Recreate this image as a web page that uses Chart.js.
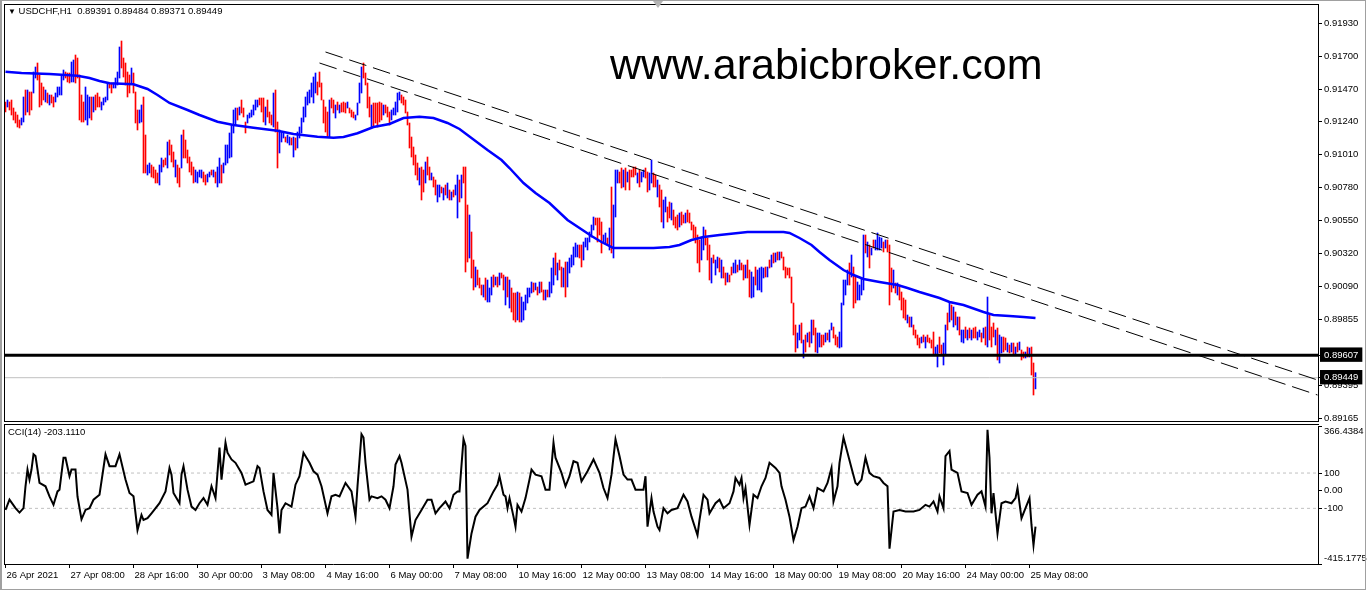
<!DOCTYPE html>
<html>
<head>
<meta charset="utf-8">
<title>USDCHF H1</title>
<script src="https://cdn.jsdelivr.net/npm/chart.js@4.4.1/dist/chart.umd.min.js"></script>
<style>
  html, body { margin: 0; padding: 0; background: #fff; }
  body { position: relative; width: 1368px; height: 596px; overflow: hidden;
         font-family: "Liberation Sans", Arial, sans-serif; color: #000; }
  canvas { position: absolute; left: 0; }
  #mainChart { top: 0; }
  #cciChart { top: 424px; }
  .frame { position: absolute; box-sizing: border-box; border: 1px solid #000; border-right: none; pointer-events: none; }
  #mainFrame { left: 4px; top: 4px; width: 1315px; height: 418px; }
  #cciFrame { left: 4px; top: 424px; width: 1315px; height: 141px; border-bottom: none; }
  #windowEdge { position: absolute; left: 0; top: 0; width: 1366px; height: 590px; box-sizing: border-box;
                border: 1px solid #a0a0a0; border-left-width: 2px; pointer-events: none; }
  .label { position: absolute; font-size: 9.5px; line-height: 12px; white-space: pre; }
  #header { left: 8px; top: 5px; }
  #cciTitle { left: 8px; top: 426px; }
  #site { position: absolute; left: 610px; top: 43px; font-size: 43px; line-height: 43px; white-space: nowrap; }
  #shift { position: absolute; left: 653px; top: 1px; width: 0; height: 0;
           border-left: 5px solid transparent; border-right: 5px solid transparent; border-top: 7px solid #b4b4b4; }
</style>
</head>
<body>
<canvas id="mainChart" width="1368" height="424"></canvas>
<canvas id="cciChart" width="1368" height="172"></canvas>
<div id="mainFrame" class="frame"></div>
<div id="cciFrame" class="frame"></div>
<div id="windowEdge"></div>
<div id="shift"></div>
<div id="header" class="label"><span style="font-size:8px">▼</span> USDCHF,H1  0.89391 0.89484 0.89371 0.89449</div>
<div id="cciTitle" class="label">CCI(14) -203.1110</div>
<div id="site">www.arabicbroker.com</div>

<script>
// H1 bars, 26 Apr 00:00 -> 25 May 11:00, one day (24 bars) per two lines
const priceHigh = [
  0.91379, 0.91393, 0.91379, 0.91393, 0.91337, 0.91309, 0.91288, 0.91253, 0.91267, 0.91414, 0.91463, 0.91463,
  0.91449, 0.91449, 0.91589, 0.91624, 0.91652, 0.91568, 0.91512, 0.91484, 0.91463, 0.91442, 0.91428, 0.91428,
  0.91414, 0.91442, 0.91484, 0.91484, 0.91568, 0.91603, 0.91589, 0.91582, 0.91582, 0.91659, 0.91673, 0.91708,
  0.91687, 0.91568, 0.91428, 0.91379, 0.91484, 0.91428, 0.91414, 0.91414, 0.91414, 0.91428, 0.91442, 0.91414,
  0.91379, 0.91407, 0.91414, 0.91512, 0.91512, 0.91512, 0.91512, 0.91547, 0.91589, 0.91764, 0.91806, 0.91687,
  0.91652, 0.91589, 0.91568, 0.91617, 0.91582, 0.91449, 0.91323, 0.91323, 0.91358, 0.91414, 0.91148, 0.90938,
  0.90952, 0.90938, 0.90924, 0.90903, 0.90882, 0.90938, 0.90987, 0.90973, 0.90987, 0.91099, 0.91113, 0.91078,
  0.91029, 0.90973, 0.90938, 0.90917, 0.91148, 0.91183, 0.91113, 0.91043, 0.90994, 0.90959, 0.90924, 0.90903,
  0.90889, 0.90903, 0.90903, 0.90889, 0.90868, 0.90875, 0.90889, 0.90903, 0.90903, 0.90889, 0.90924, 0.90987,
  0.90938, 0.90952, 0.91078, 0.91078, 0.91162, 0.91218, 0.91323, 0.91337, 0.91337, 0.91344, 0.91393, 0.91337,
  0.91239, 0.91288, 0.91302, 0.91323, 0.91358, 0.91393, 0.91393, 0.91407, 0.91407, 0.91407, 0.91344, 0.91393,
  0.91309, 0.91288, 0.91442, 0.91463, 0.91239, 0.91183, 0.91169, 0.91169, 0.91134, 0.91148, 0.91134, 0.91127,
  0.91134, 0.91127, 0.91169, 0.91204, 0.91267, 0.91344, 0.91414, 0.91449, 0.91463, 0.91512, 0.91554, 0.91582,
  0.91519, 0.91589, 0.91512, 0.91393, 0.91344, 0.91309, 0.91393, 0.91407, 0.91393, 0.91358, 0.91379, 0.91358,
  0.91372, 0.91379, 0.91372, 0.91379, 0.91337, 0.91323, 0.91309, 0.91288, 0.91372, 0.91512, 0.91624, 0.91652,
  0.91582, 0.91512, 0.91414, 0.91358, 0.91372, 0.91372, 0.91372, 0.91379, 0.91372, 0.91358, 0.91358, 0.91344,
  0.91309, 0.91323, 0.91337, 0.91379, 0.91442, 0.91449, 0.91428, 0.91414, 0.91393, 0.91309, 0.91232, 0.91134,
  0.91064, 0.91008, 0.90952, 0.90917, 0.90924, 0.90903, 0.90959, 0.90994, 0.90924, 0.90882, 0.90854, 0.90833,
  0.90798, 0.90798, 0.90784, 0.90777, 0.90798, 0.90812, 0.90763, 0.90749, 0.90763, 0.90798, 0.90868, 0.90833,
  0.90868, 0.90924, 0.90924, 0.90658, 0.90588, 0.90469, 0.90273, 0.90224, 0.90203, 0.90147, 0.90098, 0.90098,
  0.90147, 0.90133, 0.90077, 0.90154, 0.90168, 0.90154, 0.90154, 0.90182, 0.90182, 0.90168, 0.90154, 0.90154,
  0.90133, 0.90077, 0.90042, 0.90042, 0.90049, 0.90042, 0.90014, 0.89979, 0.90028, 0.90077, 0.90077, 0.90119,
  0.90112, 0.90112, 0.90084, 0.90119, 0.90119, 0.90063, 0.90063, 0.90063, 0.90119, 0.90217, 0.90287, 0.90322,
  0.90252, 0.90273, 0.90224, 0.90217, 0.90259, 0.90259, 0.90287, 0.90308, 0.90364, 0.90392, 0.90378, 0.90378,
  0.90378, 0.90399, 0.90427, 0.90427, 0.90469, 0.90518, 0.90574, 0.90567, 0.90567, 0.90567, 0.90539, 0.90448,
  0.90462, 0.90427, 0.90497, 0.90784, 0.90658, 0.90903, 0.90903, 0.90889, 0.90917, 0.90903, 0.90917, 0.90889,
  0.90903, 0.90903, 0.90924, 0.90924, 0.90882, 0.90903, 0.90889, 0.90903, 0.90917, 0.90889, 0.90882, 0.90973,
  0.90882, 0.90868, 0.90833, 0.90798, 0.90763, 0.90693, 0.90714, 0.90644, 0.90679, 0.90672, 0.90623, 0.90574,
  0.90588, 0.90602, 0.90609, 0.90588, 0.90602, 0.90623, 0.90602, 0.90539, 0.90518, 0.90504, 0.90448, 0.90413,
  0.90434, 0.90504, 0.90483, 0.90427, 0.90378, 0.90287, 0.90308, 0.90273, 0.90294, 0.90287, 0.90273, 0.90224,
  0.90182, 0.90182, 0.90168, 0.90224, 0.90252, 0.90273, 0.90238, 0.90273, 0.90252, 0.90238, 0.90238, 0.90273,
  0.90203, 0.90189, 0.90154, 0.90224, 0.90203, 0.90217, 0.90224, 0.90217, 0.90224, 0.90224, 0.90273, 0.90308,
  0.90322, 0.90322, 0.90329, 0.90329, 0.90329, 0.90294, 0.90224, 0.90217, 0.90217, 0.90154, 0.89972, 0.89818,
  0.89762, 0.89818, 0.89832, 0.89713, 0.89748, 0.89762, 0.89769, 0.89853, 0.89853, 0.89797, 0.89762, 0.89762,
  0.89748, 0.89748, 0.89762, 0.89762, 0.89783, 0.89832, 0.89804, 0.89748, 0.89734, 0.89769, 0.89972, 0.90133,
  0.90133, 0.90203, 0.90252, 0.90308, 0.90224, 0.90154, 0.90119, 0.90098, 0.90147, 0.90448, 0.90448, 0.90399,
  0.90378, 0.90357, 0.90413, 0.90413, 0.90462, 0.90434, 0.90427, 0.90399, 0.90413, 0.90413, 0.90378, 0.90217,
  0.90203, 0.90112, 0.90112, 0.90098, 0.90049, 0.90007, 0.89993, 0.89888, 0.89874, 0.89874, 0.89818, 0.89783,
  0.89748, 0.89727, 0.89734, 0.89748, 0.89734, 0.89748, 0.89727, 0.89713, 0.89769, 0.89664, 0.89678, 0.89734,
  0.89678, 0.89692, 0.89818, 0.89902, 0.89979, 0.89958, 0.89944, 0.89909, 0.89874, 0.89874, 0.89783, 0.89783,
  0.89804, 0.89783, 0.89797, 0.89783, 0.89797, 0.89804, 0.89769, 0.89783, 0.89762, 0.89797, 0.89804, 0.90014,
  0.89888, 0.89804, 0.89832, 0.89783, 0.89797, 0.89748, 0.89734, 0.89734, 0.89727, 0.89692, 0.89678, 0.89692,
  0.89692, 0.89664, 0.89692, 0.89699, 0.89643, 0.89629, 0.89629, 0.89664, 0.89657, 0.89664, 0.89552, 0.89484
];

const priceLow = [
  0.91309, 0.91344, 0.91323, 0.91288, 0.91253, 0.91232, 0.91204, 0.91197, 0.91218, 0.91239, 0.91288, 0.91309,
  0.91288, 0.91323, 0.91442, 0.91547, 0.91533, 0.91344, 0.91358, 0.91393, 0.91379, 0.91372, 0.91358, 0.91372,
  0.91344, 0.91379, 0.91414, 0.91428, 0.91428, 0.91533, 0.91547, 0.91519, 0.91512, 0.91519, 0.91519, 0.91512,
  0.91547, 0.91253, 0.91239, 0.91239, 0.91253, 0.91218, 0.91267, 0.91253, 0.91309, 0.91323, 0.91344, 0.91344,
  0.91323, 0.91358, 0.91379, 0.91393, 0.91477, 0.91442, 0.91477, 0.91477, 0.91498, 0.91547, 0.91617, 0.91554,
  0.91498, 0.91414, 0.91442, 0.91512, 0.91442, 0.91232, 0.91183, 0.91232, 0.91239, 0.90882, 0.90882, 0.90868,
  0.90882, 0.90854, 0.90847, 0.90812, 0.90812, 0.90798, 0.90889, 0.90924, 0.90938, 0.90917, 0.91008, 0.90959,
  0.90924, 0.90854, 0.90812, 0.90784, 0.90917, 0.90987, 0.90987, 0.90952, 0.90889, 0.90868, 0.90812, 0.90819,
  0.90812, 0.90854, 0.90847, 0.90819, 0.90798, 0.90819, 0.90854, 0.90868, 0.90854, 0.90812, 0.90784, 0.90812,
  0.90812, 0.90882, 0.90938, 0.90952, 0.90987, 0.90994, 0.91162, 0.91218, 0.91253, 0.91288, 0.91302, 0.91274,
  0.91162, 0.91232, 0.91267, 0.91274, 0.91288, 0.91323, 0.91344, 0.91358, 0.91309, 0.91239, 0.91218, 0.91274,
  0.91232, 0.91218, 0.91204, 0.91169, 0.90917, 0.91022, 0.91099, 0.91127, 0.91099, 0.91092, 0.91078, 0.91078,
  0.90994, 0.91043, 0.91057, 0.91127, 0.91162, 0.91239, 0.91274, 0.91358, 0.91372, 0.91414, 0.91372, 0.91442,
  0.91428, 0.91484, 0.91393, 0.91232, 0.91169, 0.91134, 0.91134, 0.91337, 0.91302, 0.91267, 0.91323, 0.91302,
  0.91309, 0.91309, 0.91302, 0.91337, 0.91302, 0.91274, 0.91267, 0.91253, 0.91288, 0.91372, 0.91442, 0.91547,
  0.91498, 0.91337, 0.91274, 0.91204, 0.91204, 0.91232, 0.91204, 0.91239, 0.91253, 0.91288, 0.91302, 0.91274,
  0.91218, 0.91253, 0.91288, 0.91288, 0.91309, 0.91393, 0.91372, 0.91358, 0.91302, 0.91218, 0.91057, 0.90994,
  0.90938, 0.90868, 0.90833, 0.90798, 0.90693, 0.90749, 0.90812, 0.90868, 0.90833, 0.90833, 0.90784, 0.90728,
  0.90679, 0.90714, 0.90742, 0.90693, 0.90728, 0.90707, 0.90693, 0.90693, 0.90714, 0.90728, 0.90567, 0.90679,
  0.90707, 0.90812, 0.90189, 0.90259, 0.90287, 0.90147, 0.90063, 0.90084, 0.90098, 0.90077, 0.90028, 0.90014,
  0.89993, 0.89979, 0.89979, 0.90028, 0.90084, 0.90098, 0.90084, 0.90098, 0.90147, 0.90063, 0.89958, 0.90014,
  0.89937, 0.89909, 0.89853, 0.89839, 0.89853, 0.89839, 0.89839, 0.89853, 0.89923, 0.89972, 0.90014, 0.90042,
  0.90049, 0.90063, 0.90028, 0.90042, 0.90049, 0.89993, 0.89993, 0.90014, 0.90014, 0.90042, 0.90098, 0.90168,
  0.90133, 0.90203, 0.90084, 0.90084, 0.90014, 0.90084, 0.90182, 0.90224, 0.90238, 0.90294, 0.90294, 0.90287,
  0.90224, 0.90273, 0.90364, 0.90343, 0.90399, 0.90434, 0.90483, 0.90518, 0.90399, 0.90448, 0.90322, 0.90399,
  0.90392, 0.90378, 0.90343, 0.90322, 0.90287, 0.90574, 0.90812, 0.90812, 0.90777, 0.90784, 0.90763, 0.90819,
  0.90763, 0.90854, 0.90854, 0.90868, 0.90812, 0.90784, 0.90819, 0.90854, 0.90847, 0.90749, 0.90763, 0.90812,
  0.90784, 0.90784, 0.90714, 0.90644, 0.90539, 0.90497, 0.90609, 0.90539, 0.90567, 0.90553, 0.90518, 0.90497,
  0.90483, 0.90504, 0.90518, 0.90532, 0.90532, 0.90539, 0.90532, 0.90483, 0.90427, 0.90392, 0.90252, 0.90189,
  0.90273, 0.90343, 0.90378, 0.90273, 0.90133, 0.90112, 0.90252, 0.90168, 0.90217, 0.90189, 0.90147, 0.90147,
  0.90098, 0.90119, 0.90119, 0.90168, 0.90182, 0.90182, 0.90189, 0.90203, 0.90203, 0.90133, 0.90147, 0.90147,
  0.90014, 0.90007, 0.90014, 0.90098, 0.90063, 0.90063, 0.90049, 0.90147, 0.90154, 0.90154, 0.90217, 0.90224,
  0.90252, 0.90259, 0.90273, 0.90273, 0.90287, 0.90203, 0.90147, 0.90168, 0.90147, 0.89972, 0.89748, 0.89629,
  0.89657, 0.89713, 0.89692, 0.89587, 0.89629, 0.89699, 0.89664, 0.89692, 0.89748, 0.89629, 0.89622, 0.89664,
  0.89664, 0.89678, 0.89699, 0.89713, 0.89699, 0.89783, 0.89727, 0.89678, 0.89664, 0.89657, 0.89664, 0.89958,
  0.90028, 0.90098, 0.90098, 0.90154, 0.89937, 0.89972, 0.89993, 0.89993, 0.90028, 0.90063, 0.90322, 0.90294,
  0.90217, 0.90308, 0.90357, 0.90343, 0.90343, 0.90343, 0.90357, 0.90329, 0.90357, 0.90329, 0.89958, 0.90049,
  0.90077, 0.90042, 0.90028, 0.89993, 0.89923, 0.89867, 0.89853, 0.89832, 0.89804, 0.89804, 0.89748, 0.89727,
  0.89678, 0.89657, 0.89692, 0.89699, 0.89657, 0.89699, 0.89692, 0.89657, 0.89608, 0.89608, 0.89524, 0.89622,
  0.89608, 0.89538, 0.89608, 0.89783, 0.89839, 0.89853, 0.89804, 0.89818, 0.89783, 0.89748, 0.89699, 0.89692,
  0.89727, 0.89713, 0.89727, 0.89713, 0.89727, 0.89727, 0.89713, 0.89734, 0.89699, 0.89727, 0.89678, 0.89664,
  0.89713, 0.89664, 0.89734, 0.89678, 0.89573, 0.89552, 0.89622, 0.89629, 0.89643, 0.89629, 0.89622, 0.89629,
  0.89608, 0.89608, 0.89629, 0.89643, 0.89573, 0.89587, 0.89587, 0.89594, 0.89594, 0.89468, 0.89328, 0.89371
];

// u = up bar (blue), d = down bar (red); one string per day
const barDirection = [
  "dudddddd uududduu ddddudud", "duuuuudd duuddddd uuududdd", "uuuudduu uudddddu ddduuddu",
  "udddduud dudddudd uddddddu", "uuudduud uduuduuu uuuududd", "duuuuuud ddudddud duuuduud",
  "uduuuuuu uuuudddd dduddudu", "dddudddu uuuddddu dddddudd", "duuuuudd dddddddu dduddudd",
  "uudududu duududdd uddudddu", "duuududu ddududdd uduuuuuu", "dududdud uuududdu duuuuuud",
  "duuuuuud ddduudud uuuddudu", "dddduduu dduuddud duuddudd", "dudduddd dddduudd duduudud",
  "dudduudu ddudduud uuuududu", "dududddd dddduudu dududduu", "dduduudd duuuuudu dduuuudu",
  "duduuuud udddudud dddududd", "ddududdd duudduud udududuu", "dududduu dududddu duuddudu",
  "dududdud uddu"
];

// blue moving average (bar index, price)
const maBar = [0, 8, 22, 36, 42, 47, 52, 64, 71, 76, 82, 91, 97, 106, 114, 124, 136, 144, 156, 164,
  169, 176, 184, 192, 199, 207, 214, 221, 227, 241, 248, 252, 259, 265, 272, 281, 287, 293, 298, 304,
  324, 332, 337, 343, 349, 357, 371, 389, 392, 397, 403, 407, 412, 419, 424, 429, 437, 446, 451, 457,
  467, 472, 479, 489, 494, 502, 509, 515];
const maValue = [0.91591, 0.91582, 0.91575, 0.91563, 0.91547, 0.91526, 0.91510, 0.91503, 0.91470, 0.91428,
  0.91372, 0.91323, 0.91288, 0.91241, 0.91218, 0.91199, 0.91178, 0.91155, 0.91136, 0.91129,
  0.91134, 0.91160, 0.91204, 0.91225, 0.91267, 0.91276, 0.91267, 0.91232, 0.91190, 0.91043,
  0.90973, 0.90917, 0.90812, 0.90742, 0.90672, 0.90553, 0.90497, 0.90441, 0.90399, 0.90357,
  0.90357, 0.90364, 0.90378, 0.90413, 0.90434, 0.90448, 0.90469, 0.90469, 0.90462, 0.90427,
  0.90378, 0.90329, 0.90273, 0.90203, 0.90168, 0.90140, 0.90119, 0.90098, 0.90077, 0.90049,
  0.90007, 0.89979, 0.89958, 0.89909, 0.89888, 0.89881, 0.89874, 0.89867];

// dashed trend lines (start bar/price, end bar/price)
const trendUpperBar = [160, 656];
const trendUpperPrice = [0.91729, 0.89433];
const trendLowerBar = [157, 656];
const trendLowerPrice = [0.91652, 0.89328];

// horizontal levels: support (thick black) and last bid (grey)
const levelPrices = [0.89607, 0.89449];

const priceTicks = [0.91930, 0.91700, 0.91470, 0.91240, 0.91010, 0.90780, 0.90550, 0.90320,
  0.90090, 0.89855, 0.89607, 0.89395, 0.89449, 0.89165];
const boxedPrices = [0.89607, 0.89449];

// CCI(14)
const cciBar = [0,2,5,7,9,10,11,12,13,14, 15,17,20,22,24,26,27,29,30,32, 33,35,36,38,40,42,44,47,50,52,
  55,57,60,62,64,66,68,69,71,73, 77,80,82,83,84,87,88,89,91,93, 95,97,99,101,103,105,107,108,110,111,
  113,115,118,120,124,126,127,129,131,133, 134,136,137,138,140,143,145,147,149,152,
  154,156,158,161,163,165,167,170,173,175, 176,178,179,180,182,183,186,188,190,192,
  194,195,197,198,201,203,205,208,211,213, 215,217,220,222,224,226,227,229,230,231,
  233,235,237,241,244,246,247,249,250,251, 252,254,255,256,258,260,262,263,265,268,
  270,272,274,275,278,280,282,284,286,288, 291,294,297,299,301,303,305,307,309,311,
  313,315,319,320,321,323,324,326,327,329, 331,333,336,339,341,343,346,347,349,351,
  352,355,357,359,362,364,365,367,368,369, 370,372,374,376,378,380,382,385,387,388,
  390,392,394,396,398,400,402,404,406,409, 411,413,414,416,417,419,421,423,425,426,
  428,430,432,434,437,439,441,442,444,447, 450,454,457,460,462,464,466,467,469,470,
  472,473,476,478,481,483,486,488,490,491, 492,493,494,496,498,500,503,505,506,508,
  510,512,513,514,515];
const cciValue = [-109,-51,-99,-124,-99,25,120,63,120,206, 196,44,25,-32,-80,-4,6,187,187,82,
  120,120,-33,-162,-109,-99,-51,-23,206,139, 139,206,63,-13,-32,-223,-137,-166,-156,-128,
  -71,-4,129,91,-13,-71,91,139,6,-90, -109,-71,-42,-80,25,-42,244,63,272,215,
  177,158,101,34,53,139,129,-4,-109,-137, 101,-99,-242,-109,-71,-90,34,82,215,158,
  110,91,25,-128,-32,-23,-32,44,-4,-147, 25,320,301,158,-51,-32,-42,-32,-51,-99,
  25,148,196,158,6,-261,-166,-109,-51,-51, -128,-99,-61,-99,-23,-4,-4,291,253,-385,
  -242,-147,-109,-71,-4,34,82,-23,-32,-99, -42,-147,-204,-80,-118,-42,63,120,91,82,
  6,6,272,187,101,25,82,167,158,53, 110,177,101,15,-42,91,291,196,91,63,
  63,6,6,82,-204,-42,-118,-204,-223,-99, -128,-109,-99,-23,-61,-147,-252,-166,-23,-51,
  -128,-71,-51,-99,-71,-4,72,34,72,-42, 15,-194,-23,-42,25,72,158,129,101,25,
  -51,-147,-280,-204,-99,-90,-32,-99,15,-4, 44,129,-61,25,158,301,215,129,44,34,
  63,187,101,82,72,44,25,-328,-118,-109, -118,-118,-109,-80,-90,-61,-118,-32,-99,196,
  225,120,101,-4,-13,-80,-23,-4,-90,345, 187,-128,-13,-242,-71,-61,-71,-42,15,-156,
  -99,-42,-194,-309,-203.111];
const cciLevels = [100, -100];
const cciMin = -415.1775;
const cciMax = 366.4384;
const cciTicks = [366.4384, 100, 0, -100, -415.1775];
// the window max/min labels sit just inside the panel, as in the terminal
const cciTickLabels = [["", "366.4384"], "100", "0.00", "-100", ["-415.1775", ""]];

// time axis labels (bar index of each label)
const timeTickBars = [0, 32, 64, 96, 128, 160, 192, 224, 256, 288, 320, 352, 384, 416, 448, 480, 512];
const timeLabels = ["26 Apr 2021", "27 Apr 08:00", "28 Apr 16:00", "30 Apr 00:00", "3 May 08:00",
  "4 May 16:00", "6 May 00:00", "7 May 08:00", "10 May 16:00", "12 May 00:00", "13 May 08:00",
  "14 May 16:00", "18 May 00:00", "19 May 08:00", "20 May 16:00", "24 May 00:00", "25 May 08:00"];

// visible window: bar range and price range of the main panel
const xMin = -0.25, xMax = 656.25;
const priceMin = 0.89146, priceMax = 0.92058;

Chart.defaults.font.family = "'Liberation Sans', Arial, sans-serif";
Chart.defaults.font.size = 9.5;
Chart.defaults.color = "#000";

const dirs = barDirection.join("").replace(/ /g, "");
if (dirs.length !== priceHigh.length || priceLow.length !== priceHigh.length) {
  console.log("bar arrays mismatch", dirs.length, priceHigh.length, priceLow.length);
}
if (cciBar.length !== cciValue.length) console.log("cci mismatch", cciBar.length, cciValue.length);

const barData = priceHigh.map((h, i) => ({ x: i, y: [priceLow[i], h] }));
const barColors = priceHigh.map((h, i) => (dirs[i] === "u" ? "#0000ff" : "#ff0000"));

function flatLine(v) {
  return [{ x: xMin, y: v }, { x: xMax, y: v }];
}
function lineSet(data, color, width, extra) {
  return Object.assign({
    type: "line", data: data, borderColor: color, borderWidth: width,
    pointRadius: 0, tension: 0, fill: false
  }, extra || {});
}
// fixed axis size, no extra padding for the end labels
function fixY(s) { s.width = 50; s.paddingTop = 0; s.paddingBottom = 0; }
function fixX(s) { s.height = 32; s.paddingLeft = 0; s.paddingRight = 0; }

new Chart(document.getElementById("mainChart"), {
  type: "bar",
  data: {
    datasets: [
      lineSet(maBar.map((b, k) => ({ x: b, y: maValue[k] })), "#0000ff", 2.5, { order: 1 }),
      lineSet(flatLine(levelPrices[0]), "#000", 3, { order: 2 }),
      lineSet(flatLine(levelPrices[1]), "#c0c0c0", 1, { order: 3 }),
      lineSet(trendUpperBar.map((b, k) => ({ x: b, y: trendUpperPrice[k] })), "#000", 1, { order: 2, borderDash: [18, 7] }),
      lineSet(trendLowerBar.map((b, k) => ({ x: b, y: trendLowerPrice[k] })), "#000", 1, { order: 2, borderDash: [18, 7] }),
      { type: "bar", data: barData, backgroundColor: barColors, borderWidth: 0, barThickness: 1, order: 10 }
    ]
  },
  options: {
    responsive: false,
    animation: false,
    events: [],
    layout: { padding: { left: 5, top: 5, right: 0, bottom: 3 } },
    plugins: { legend: { display: false }, tooltip: { enabled: false } },
    scales: {
      x: { type: "linear", min: xMin, max: xMax, offset: false, display: false },
      y: {
        position: "right",
        min: priceMin,
        max: priceMax,
        afterFit: fixY,
        afterBuildTicks: (s) => { s.ticks = priceTicks.map((v) => ({ value: v })); },
        grid: { drawOnChartArea: false, drawTicks: true, tickLength: 4, color: "#000" },
        border: { display: true, color: "#000", width: 1 },
        ticks: {
          autoSkip: false,
          padding: 2,
          showLabelBackdrop: true,
          backdropPadding: { left: 4, right: 4, top: 2, bottom: 1 },
          backdropColor: (c) => (c.tick && boxedPrices.includes(c.tick.value) ? "#000" : "rgba(0,0,0,0)"),
          color: (c) => (c.tick && boxedPrices.includes(c.tick.value) ? "#fff" : "#000"),
          callback: (v) => Number(v).toFixed(5)
        }
      }
    }
  }
});

new Chart(document.getElementById("cciChart"), {
  type: "line",
  data: {
    datasets: [
      lineSet(cciBar.map((b, k) => ({ x: b, y: cciValue[k] })), "#000", 2, { order: 1 }),
      lineSet(flatLine(cciLevels[0]), "#c0c0c0", 1, { order: 2, borderDash: [3, 3] }),
      lineSet(flatLine(cciLevels[1]), "#c0c0c0", 1, { order: 2, borderDash: [3, 3] })
    ]
  },
  options: {
    responsive: false,
    animation: false,
    events: [],
    layout: { padding: { left: 5, top: 2, right: 0, bottom: 0 } },
    plugins: { legend: { display: false }, tooltip: { enabled: false } },
    scales: {
      x: {
        type: "linear",
        min: xMin,
        max: xMax,
        afterFit: fixX,
        afterBuildTicks: (s) => { s.ticks = timeTickBars.map((v) => ({ value: v })); },
        grid: { drawOnChartArea: false, drawTicks: true, tickLength: 4, color: "#000" },
        border: { display: true, color: "#000", width: 1 },
        ticks: { autoSkip: false, maxRotation: 0, minRotation: 0, align: "start", padding: 2, labelOffset: 1,
                 callback: (v, i) => timeLabels[i] }
      },
      y: {
        position: "right",
        min: cciMin,
        max: cciMax,
        afterFit: fixY,
        afterBuildTicks: (s) => { s.ticks = cciTicks.map((v) => ({ value: v })); },
        grid: { drawOnChartArea: false, drawTicks: true, tickLength: 4, color: "#000" },
        border: { display: true, color: "#000", width: 1 },
        ticks: { autoSkip: false, padding: 2, callback: (v, i) => cciTickLabels[i] }
      }
    }
  }
});
</script>
</body>
</html>
